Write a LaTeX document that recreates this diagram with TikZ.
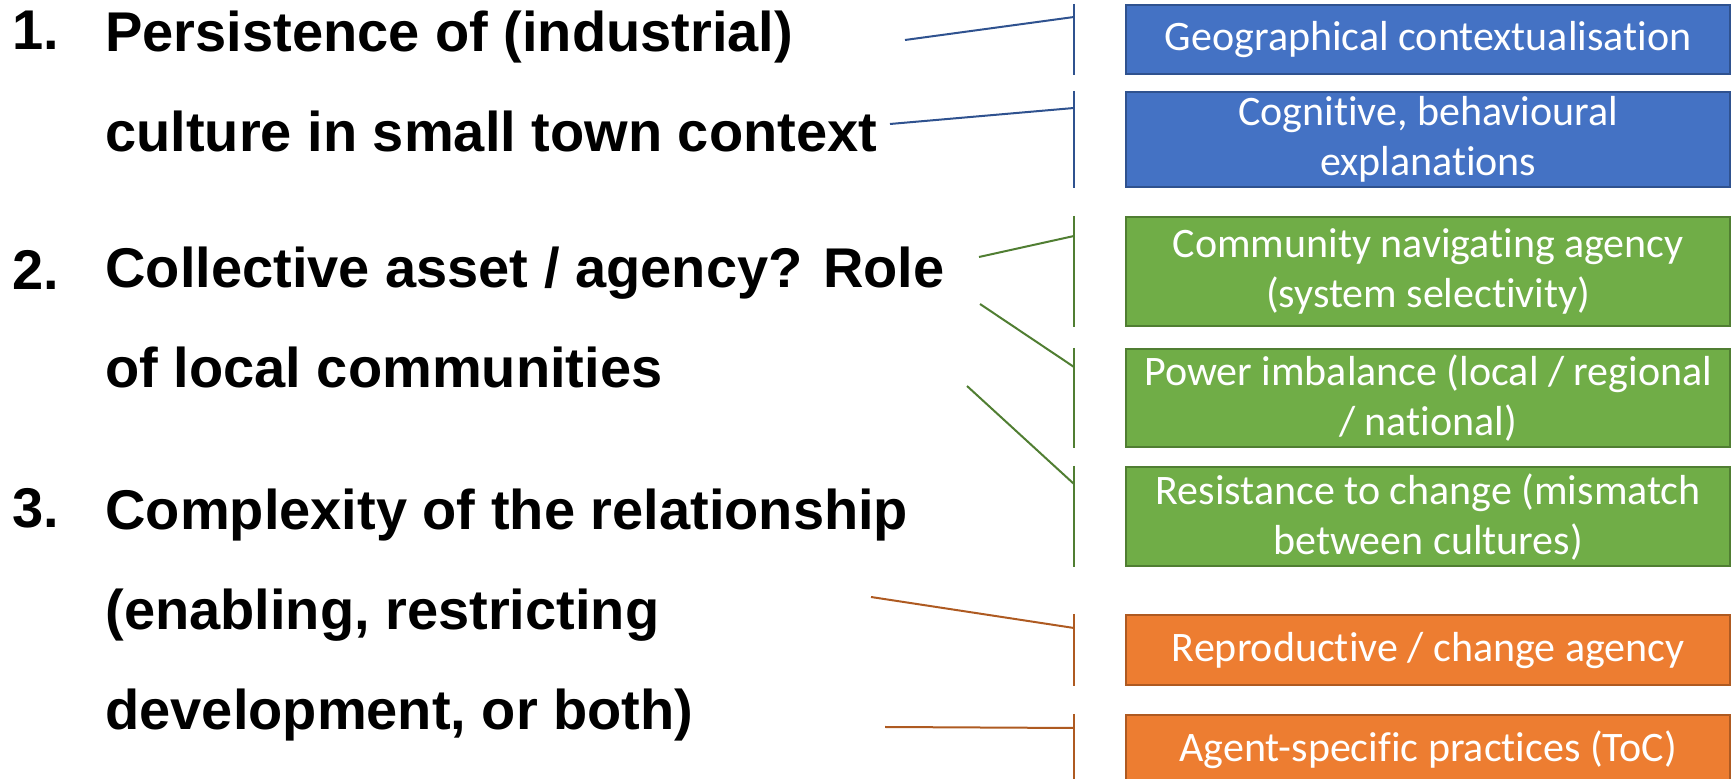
\documentclass[tikz,border=0pt]{standalone}
\usepackage{fontspec}
\newfontfamily\headfont{Liberation Sans}
\newfontfamily\boxfont[Ligatures=NoCommon]{Carlito}
\usetikzlibrary{positioning}
\definecolor{offblue}{HTML}{4472C4}
\definecolor{offblueline}{HTML}{2F528F}
\definecolor{offgreen}{HTML}{70AD47}
\definecolor{offgreenline}{HTML}{507E32}
\definecolor{offorange}{HTML}{ED7D31}
\definecolor{offorangeline}{HTML}{AE5A21}
\tikzset{
	topic/.style={anchor=base west, inner sep=0pt, align=left, font=\headfont\bfseries\fontsize{28}{50}\selectfont},
	cue/.style={anchor=north west, draw, line width=1.2pt, minimum width=302pt, inner sep=2pt, align=center, text=white, font=\boxfont\fontsize{21}{25}\selectfont},
	bluebox/.style={cue, fill=offblue, draw=offblueline},
	greenbox/.style={cue, fill=offgreen, draw=offgreenline},
	orangebox/.style={cue, fill=offorange, draw=offorangeline},
	blueline/.style={draw=offblueline, line width=1pt},
	greenline/.style={draw=offgreenline, line width=1pt},
	orangeline/.style={draw=offorangeline, line width=1pt}
}

\begin{document}
\begin{tikzpicture}[x=0.5pt, y=-0.5pt]
				\useasboundingbox (0,0) rectangle (1731,779);
				% questions (base = last line)
				\node[topic] (n1) at (12,50) {1.};
				\node[topic] (t1) at (105,152) {Persistence of (industrial)\\culture in small town context};
				\node[topic] (n2) at (12,290) {2.};
				\node[topic] (t2) at (105,388) {Collective asset / agency? Role\\of local communities};
				\node[topic] (n3) at (12,528) {3.};
				\node[topic] (t3) at (105,730) {Complexity of the relationship\\(enabling, restricting\\development, or both)};
				% themes
				\node[bluebox, minimum height=34.5pt] (geo) at (1125,4) {Geographical contextualisation};
				\node[bluebox, minimum height=47.5pt] (cog) at (1125,91) {Cognitive, behavioural\\explanations};
				\node[greenbox, minimum height=54.5pt] (nav) at (1125,216) {Community navigating agency\\(system selectivity)};
				\node[greenbox, minimum height=49pt] (power) at (1125,348) {Power imbalance (local / regional\\/ national)};
				\node[greenbox, minimum height=49.5pt] (resist) at (1125,466) {Resistance to change (mismatch\\between cultures)};
				\node[orangebox, minimum height=35pt] (repro) at (1125,614) {Reproductive / change agency};
				\node[orangebox, minimum height=35pt] (agent) at (1125,714) {Agent-specific practices (ToC)};
				% brackets and their joints
				\foreach \b/\c/\d in {geo/blueline/6.5, cog/blueline/8.5, nav/greenline/10, power/greenline/9.5, resist/greenline/9, repro/orangeline/7, agent/orangeline/7} {
					\draw[\c] ([xshift=-25.5pt]\b.north west) -- ([xshift=-25.5pt]\b.south west);
					\coordinate (\b-in) at ([xshift=-25.5pt, yshift=-\d pt]\b.north west);
				}
				\coordinate (s1) at (905,40);
				\coordinate (s2) at (890,124);
				\coordinate (s3) at (979,257);
				\coordinate (s4) at (980,304);
				\coordinate (s5) at (967,386);
				\coordinate (s6) at (871,597);
				\coordinate (s7) at (885,727);
				\draw[blueline] (s1) -- (geo-in);
				\draw[blueline] (s2) -- (cog-in);
				\draw[greenline] (s3) -- (nav-in);
				\draw[greenline] (s4) -- (power-in);
				\draw[greenline] (s5) -- (resist-in);
				\draw[orangeline] (s6) -- (repro-in);
				\draw[orangeline] (s7) -- (agent-in);
			\end{tikzpicture}
\end{document}
